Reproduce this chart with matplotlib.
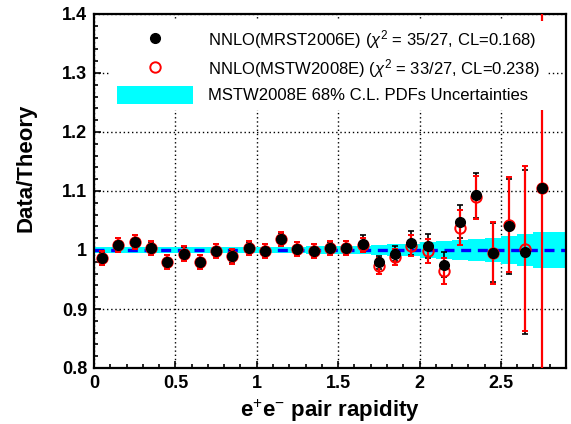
import matplotlib
matplotlib.use("Agg")
import matplotlib.pyplot as plt
from matplotlib.lines import Line2D
from matplotlib.patches import Patch
from matplotlib.ticker import MultipleLocator
import numpy as np

plt.rcParams["font.family"] = ["Liberation Sans", "DejaVu Sans"]
plt.rcParams["mathtext.fontset"] = "custom"
plt.rcParams["mathtext.rm"] = "Liberation Sans"
plt.rcParams["mathtext.it"] = "Liberation Sans:italic"

# rapidity bin centres
rapidity = [0.05, 0.15, 0.25, 0.35, 0.45, 0.55, 0.65, 0.75, 0.85, 0.95,
            1.05, 1.15, 1.25, 1.35, 1.45, 1.55, 1.65, 1.75, 1.85, 1.95,
            2.05, 2.15, 2.25, 2.35, 2.45, 2.55, 2.65, 2.75]

# data/theory with MRST2006E
ratio_mrst = [0.986, 1.009, 1.014, 1.003, 0.980, 0.994, 0.980, 0.999, 0.989, 1.003,
              0.999, 1.018, 1.002, 0.999, 1.003, 1.004, 1.011, 0.979, 0.994, 1.012,
              1.007, 0.975, 1.048, 1.093, 0.995, 1.040, 0.997, 1.105]
err_mrst = [0.011, 0.011, 0.011, 0.011, 0.011, 0.011, 0.011, 0.011, 0.011, 0.011,
            0.011, 0.011, 0.011, 0.011, 0.011, 0.012, 0.015, 0.011, 0.012, 0.020,
            0.020, 0.021, 0.028, 0.038, 0.050, 0.081, 0.139, 0.400]

# data/theory with MSTW2008E
ratio_mstw = [0.986, 1.009, 1.014, 1.003, 0.980, 0.994, 0.980, 0.999, 0.989, 1.003,
              0.999, 1.018, 1.002, 0.999, 1.003, 1.004, 1.008, 0.973, 0.988, 1.007,
              0.998, 0.964, 1.038, 1.089, 0.995, 1.043, 1.002, 1.105]
err_mstw = [0.012, 0.012, 0.012, 0.012, 0.012, 0.012, 0.012, 0.012, 0.012, 0.012,
            0.012, 0.012, 0.012, 0.012, 0.012, 0.012, 0.012, 0.014, 0.013, 0.018,
            0.020, 0.022, 0.029, 0.037, 0.052, 0.081, 0.140, 0.400]

# MSTW2008E PDF uncertainty band (bin edges and half widths)
band_edges = [0.0, 0.1, 0.2, 0.3, 0.4, 0.5, 0.6, 0.7, 0.8, 0.9, 1.0,
              1.1, 1.2, 1.3, 1.4, 1.5, 1.6, 1.7, 1.8, 1.9, 2.0,
              2.1, 2.2, 2.3, 2.4, 2.5, 2.6, 2.7, 2.8, 2.9]
band_half = [0.005, 0.005, 0.005, 0.005, 0.005, 0.005, 0.005, 0.005, 0.005, 0.005,
             0.005, 0.005, 0.005, 0.006, 0.006, 0.007, 0.007, 0.009, 0.010, 0.011,
             0.013, 0.015, 0.017, 0.019, 0.021, 0.024, 0.027, 0.030, 0.031]

fig = plt.figure(figsize=(5.71, 4.24), dpi=100)
ax = fig.add_axes([94 / 571, 56 / 424, 472 / 571, 354 / 424])

# dotted grid at the major ticks
ax.set_axisbelow(True)
ax.xaxis.grid(True, which="major", color="black", linestyle=(0, (1, 2)), linewidth=1.0)
ax.yaxis.grid(True, which="major", color="black", linestyle=(0, (1, 2)), linewidth=1.0)

# band as step histogram
edges = np.array(band_edges)
half = np.array(band_half + [band_half[-1]])
ax.fill_between(edges, 1 - half, 1 + half, step="post", color="#00ffff",
                linewidth=0, zorder=1)
ax.axhline(1.0, color="#0000ff", lw=2.4, ls=(0, (3, 2)), zorder=2)

# error bars
ax.errorbar(rapidity, ratio_mrst, yerr=err_mrst, fmt="none", ecolor="black",
            elinewidth=1.2, capsize=2, capthick=1.2, zorder=3)
ax.errorbar(rapidity, ratio_mstw, yerr=err_mstw, fmt="none", ecolor="#ff0000",
            elinewidth=1.6, capsize=2, capthick=1.4, zorder=4)
ax.plot(rapidity, ratio_mstw, "o", ms=7.5, mfc="none", mec="#ff0000", mew=1.4,
        ls="none", zorder=5)
ax.plot(rapidity, ratio_mrst, "o", ms=7, color="black", ls="none", zorder=6)

ax.set_xlim(0, 2.9)
ax.set_ylim(0.8, 1.4)
ax.set_xticks([0, 0.5, 1, 1.5, 2, 2.5])
ax.set_xticklabels(["0", "0.5", "1", "1.5", "2", "2.5"])
ax.set_yticks([0.8, 0.9, 1.0, 1.1, 1.2, 1.3, 1.4])
ax.set_yticklabels(["0.8", "0.9", "1", "1.1", "1.2", "1.3", "1.4"])
ax.xaxis.set_minor_locator(MultipleLocator(0.1))
ax.yaxis.set_minor_locator(MultipleLocator(0.02))
ax.tick_params(which="both", direction="in", top=False, right=False, width=1.2)
ax.tick_params(which="major", length=5, labelsize=13, pad=5)
ax.tick_params(which="minor", length=3)
for lab in ax.get_xticklabels() + ax.get_yticklabels():
    lab.set_fontweight("bold")
for sp in ax.spines.values():
    sp.set_linewidth(1.6)

ax.set_xlabel("e$^{+}$e$^{-}$ pair rapidity", fontsize=16, fontweight="bold",
              labelpad=4)
ax.set_ylabel("Data/Theory", fontsize=16, fontweight="bold")
ax.yaxis.set_label_coords(-0.121, 0.565)

handles = [
    Line2D([], [], marker="o", ls="none", color="black", ms=7),
    Line2D([], [], marker="o", ls="none", mfc="none", mec="#ff0000", mew=1.4, ms=7.5),
    Patch(facecolor="#00ffff", edgecolor="none"),
]
labels = [
    r"NNLO(MRST2006E) ($\chi^{2}$ = 35/27, CL=0.168)",
    r"NNLO(MSTW2008E) ($\chi^{2}$ = 33/27, CL=0.238)",
    "MSTW2008E 68% C.L. PDFs Uncertainties",
]
leg = ax.legend(handles, labels, loc="upper left",
                bbox_to_anchor=(110 / 571, 1 - 21 / 424),
                bbox_transform=fig.transFigure, borderaxespad=0,
                fontsize=12, handlelength=4.6, handleheight=1.24,
                handletextpad=0.9, labelspacing=0.38, borderpad=0.4,
                frameon=True, fancybox=False, framealpha=1,
                facecolor="white", edgecolor="none")

fig.savefig("out.png", dpi=100)
